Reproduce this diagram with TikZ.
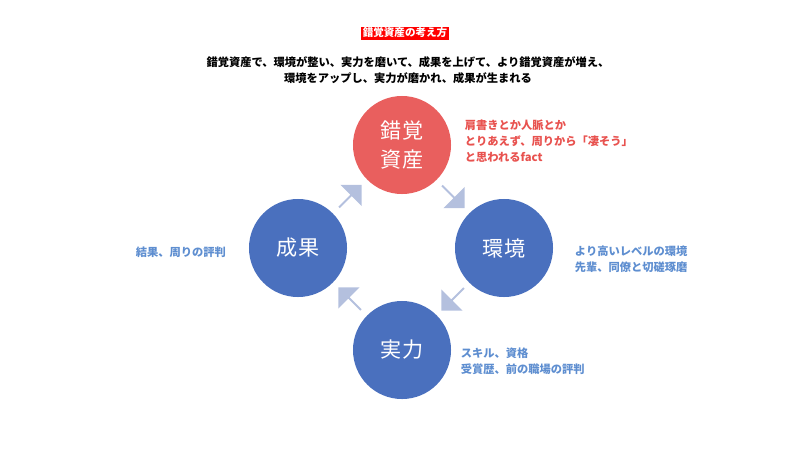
\documentclass[tikz,border=0pt]{standalone}
\usepackage{fontspec}
\setmainfont{Noto Sans CJK JP}
\usetikzlibrary{shapes.arrows,calc}
\definecolor{cred}{HTML}{E95F5E}
\definecolor{cblue}{HTML}{4A70BE}
\definecolor{carrow}{HTML}{B4C0DE}
\definecolor{tred}{HTML}{E8524F}
\definecolor{tblue}{HTML}{5E8ED0}
\begin{document}
\begin{tikzpicture}[x=0.025cm,y=-0.025cm]
%define
\tikzstyle{state_c} = [circle, minimum size=2.45cm, inner sep=0pt, text=white, align=center, font=\fontsize{15}{20}\selectfont]
\tikzstyle{arrowb} = [single arrow, fill=carrow, minimum height=0.8cm, minimum width=0.75cm, single arrow head extend=0.1cm, inner sep=0pt]
\tikzstyle{note} = [align=left, anchor=west, font=\fontsize{8}{11.5}\selectfont\bfseries]
\useasboundingbox (0,0) rectangle (800,450);

%title
\node[fill=red, text=white, inner sep=1pt, font=\fontsize{7.5}{9}\selectfont\bfseries](state_Title) at (405,33){錯覚資産の考え方};
\node[align=center, font=\fontsize{8}{11.5}\selectfont\bfseries](state_Sub) at (408,70){錯覚資産で、環境が整い、実力を磨いて、成果を上げて、より錯覚資産が増え、\\環境をアップし、実力が磨かれ、成果が生まれる};

%circles
\node[state_c, fill=cred](state_Asset) at (402,145){錯覚\\資産};
\node[state_c, fill=cblue](state_Env) at (504,248){環境};
\node[state_c, fill=cblue](state_Skill) at (402,350){実力};
\node[state_c, fill=cblue](state_Result) at (298,248){成果};

%arrows
\node[arrowb, rotate=-45] (arr_AE) at ($(state_Asset)!0.5!(state_Env)$){};
\node[arrowb, rotate=-135] (arr_ES) at ($(state_Env)!0.5!(state_Skill)$){};
\node[arrowb, rotate=135] (arr_SR) at ($(state_Skill)!0.5!(state_Result)$){};
\node[arrowb, rotate=45] (arr_RA) at ($(state_Result)!0.5!(state_Asset)$){};

%notes
\node[note, text=tred](note_Asset) at (460,141){肩書きとか人脈とか\\とりあえず、周りから「凄そう」\\と思われるfact};
\node[note, text=tblue](note_Env) at (570,259){より高いレベルの環境\\先輩、同僚と切磋琢磨};
\node[note, text=tblue](note_Skill) at (456,361){スキル、資格\\受賞歴、前の職場の評判};
\node[note, text=tblue](note_Result) at (131,252){結果、周りの評判};
\end{tikzpicture}
\end{document}
